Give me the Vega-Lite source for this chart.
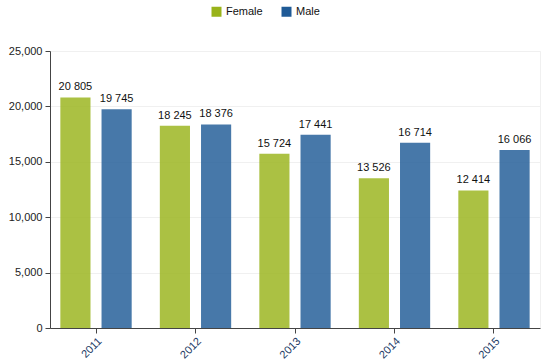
{
  "$schema": "https://vega.github.io/schema/vega-lite/v6.json",
  "autosize": {"type": "none"},
  "padding": {"left": 50, "top": 51, "right": 17, "bottom": 36},
  "width": 490,
  "height": 277,
  "config": {
    "font": "Liberation Sans",
    "view": {"stroke": "#f0f0f0"},
    "axis": {"labelFont": "Liberation Sans", "labelFontSize": 11, "title": null}
  },
  "data": {
    "values": [
      {"year": "2011", "sex": "Female", "value": 20805},
      {"year": "2011", "sex": "Male", "value": 19745},
      {"year": "2012", "sex": "Female", "value": 18245},
      {"year": "2012", "sex": "Male", "value": 18376},
      {"year": "2013", "sex": "Female", "value": 15724},
      {"year": "2013", "sex": "Male", "value": 17441},
      {"year": "2014", "sex": "Female", "value": 13526},
      {"year": "2014", "sex": "Male", "value": 16714},
      {"year": "2015", "sex": "Female", "value": 12414},
      {"year": "2015", "sex": "Male", "value": 16066}
    ]
  },
  "transform": [
    {"calculate": "replace(format(datum.value, ',d'), ',', ' ')", "as": "label"}
  ],
  "encoding": {
    "x": {
      "field": "year",
      "type": "nominal",
      "scale": {"paddingInner": 0.283, "paddingOuter": 0.104},
      "axis": {
        "labelAngle": -45,
        "labelColor": "#203864",
        "domainColor": "#444444",
        "tickColor": "#444444",
        "tickSize": 5,
        "labelPadding": 2
      }
    },
    "xOffset": {"field": "sex", "type": "nominal", "scale": {"paddingInner": 0.268, "paddingOuter": 0}},
    "y": {
      "field": "value",
      "type": "quantitative",
      "scale": {"domain": [0, 25000], "nice": false},
      "axis": {
        "values": [0, 5000, 10000, 15000, 20000, 25000],
        "format": ",d",
        "labelColor": "#222222",
        "domainColor": "#444444",
        "tickColor": "#444444",
        "tickSize": 5,
        "labelPadding": 3,
        "gridColor": "#f0f0f0"
      }
    }
  },
  "layer": [
    {
      "mark": {"type": "bar", "fillOpacity": 0.82},
      "encoding": {
        "color": {
          "field": "sex",
          "type": "nominal",
          "scale": {"domain": ["Female", "Male"], "range": ["#99B31A", "#1F5A96"]},
          "legend": {
            "title": null,
            "orient": "none",
            "direction": "horizontal",
            "legendX": 161,
            "legendY": -45,
            "padding": 0,
            "symbolType": "square",
            "symbolSize": 100,
            "symbolOpacity": 1,
            "symbolStrokeWidth": 0,
            "labelFontSize": 11,
            "labelColor": "#111111",
            "labelOffset": 4,
            "columnPadding": 18
          }
        }
      }
    },
    {
      "mark": {"type": "text", "baseline": "bottom", "dy": -5, "fontSize": 11, "color": "#111111"},
      "encoding": {"text": {"field": "label"}}
    }
  ]
}
